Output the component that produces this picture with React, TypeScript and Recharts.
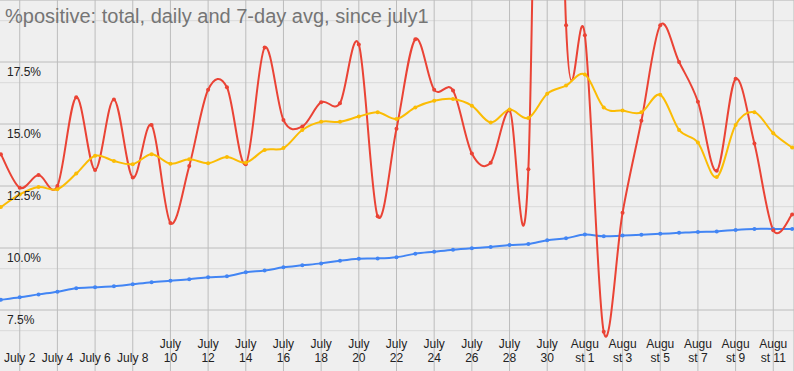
import { LineChart, Line, XAxis, YAxis, CartesianGrid } from 'recharts';

const days = [
  'July 1', 'July 2', 'July 3', 'July 4', 'July 5', 'July 6', 'July 7', 'July 8', 'July 9', 'July 10',
  'July 11', 'July 12', 'July 13', 'July 14', 'July 15', 'July 16', 'July 17', 'July 18', 'July 19', 'July 20',
  'July 21', 'July 22', 'July 23', 'July 24', 'July 25', 'July 26', 'July 27', 'July 28', 'July 29', 'July 30',
  'July 31', 'August 1', 'August 2', 'August 3', 'August 4', 'August 5', 'August 6', 'August 7', 'August 8',
  'August 9', 'August 10', 'August 11', 'August 12',
];

const totalPct = [
  7.91, 8.01, 8.13, 8.24, 8.38, 8.42, 8.46, 8.54, 8.62, 8.68, 8.74, 8.82, 8.86, 9.02, 9.09, 9.22, 9.3, 9.38,
  9.49, 9.57, 9.58, 9.63, 9.77, 9.85, 9.93, 9.99, 10.04, 10.12, 10.16, 10.31, 10.39, 10.54, 10.47, 10.5, 10.53,
  10.57, 10.61, 10.65, 10.67, 10.73, 10.77, 10.77, 10.77,
];

const dailyPct = [
  13.78, 12.43, 12.94, 12.5, 16.08, 13.15, 15.99, 12.84, 14.96, 11.01, 13.31, 16.38, 16.48, 13.38, 18.08, 15.16,
  14.9, 15.88, 15.84, 18.21, 11.28, 14.81, 18.42, 16.38, 16.35, 13.81, 13.44, 15.54, 13.18, 53.0, 18.98, 18.58,
  6.62, 11.42, 15.13, 18.98, 17.5, 15.9, 13.11, 16.82, 14.21, 10.72, 11.35,
];

const avg7Pct = [
  11.65, 12.16, 12.46, 12.37, 13.0, 13.72, 13.51, 13.38, 13.78, 13.4, 13.58, 13.42, 13.67, 13.44, 13.95, 14.03,
  14.76, 15.09, 15.09, 15.3, 15.47, 15.2, 15.67, 15.94, 16.01, 15.74, 15.06, 15.58, 15.24, 16.22, 16.55, 17.0,
  15.67, 15.54, 15.47, 16.18, 14.76, 14.25, 12.86, 14.96, 15.47, 14.63, 14.05,
];

const tickDays = [1, 3, 5, 7, 9, 11, 13, 15, 17, 19, 21, 23, 25, 27, 29, 31, 33, 35, 37, 39, 41];
const tickLabels = [
  ['July 2'], ['July 4'], ['July 6'], ['July 8'], ['July', '10'], ['July', '12'], ['July', '14'],
  ['July', '16'], ['July', '18'], ['July', '20'], ['July', '22'], ['July', '24'], ['July', '26'],
  ['July', '28'], ['July', '30'], ['Augu', 'st 1'], ['Augu', 'st 3'], ['Augu', 'st 5'], ['Augu', 'st 7'],
  ['Augu', 'st 9'], ['Augu', 'st 11'],
];

const majorLevels = [5, 7.5, 10, 12.5, 15, 17.5, 20];
const labelLevels = [7.5, 10, 12.5, 15, 17.5];
const minorLevels = [5.833, 6.667, 8.333, 9.167, 10.833, 11.667, 13.333, 14.167, 15.833, 16.667, 18.333, 19.167];

const data = days.map((label, i) => ({
  day: i,
  label,
  total: totalPct[i],
  daily: dailyPct[i],
  avg: avg7Pct[i],
}));

// uniform catmull-rom, passes through every point and overshoots like the sheets chart
const catmullRom = (context: any) => {
  let pts: number[][] = [];
  return {
    areaStart() {},
    areaEnd() {},
    lineStart() {
      pts = [];
    },
    point(x: number, y: number) {
      pts.push([+x, +y]);
    },
    lineEnd() {
      const n = pts.length;
      if (!n) return;
      context.moveTo(pts[0][0], pts[0][1]);
      for (let i = 0; i < n - 1; i++) {
        const p0 = pts[i - 1] || pts[i];
        const p1 = pts[i];
        const p2 = pts[i + 1];
        const p3 = pts[i + 2] || p2;
        context.bezierCurveTo(
          p1[0] + (p2[0] - p0[0]) / 6,
          p1[1] + (p2[1] - p0[1]) / 6,
          p2[0] - (p3[0] - p1[0]) / 6,
          p2[1] - (p3[1] - p1[1]) / 6,
          p2[0],
          p2[1],
        );
      }
    },
  };
};

const YTick = (props: any) => {
  const { y, payload } = props;
  if (!labelLevels.includes(payload.value)) return <g />;
  return (
    <text x={7} y={y + 13.6} fontSize={12} fill="#222" textAnchor="start">
      {payload.value.toFixed(1)}%
    </text>
  );
};

const XTick = (props: any) => {
  const { x, payload } = props;
  const lines = tickLabels[tickDays.indexOf(payload.value)] || [];
  return (
    <text x={x} textAnchor="middle" fontSize={12} fill="#222">
      {lines.map((l, k) => (
        <tspan key={k} x={x} y={362 - (lines.length - 1 - k) * 14}>
          {l}
        </tspan>
      ))}
    </text>
  );
};

export default function App() {
  return (
    <div
      style={{
        width: 794,
        height: 371,
        position: 'relative',
        overflow: 'hidden',
        background: '#efefef',
        fontFamily: 'Arial, "Liberation Sans", sans-serif',
      }}
    >
      <style>{'body{margin:0}'}</style>
      <LineChart width={794} height={371} data={data} margin={{ top: 0, right: 0, bottom: -1, left: -1 }}>
        <YAxis yAxisId="minor" hide type="number" domain={[5, 20]} ticks={minorLevels} allowDataOverflow />
        <CartesianGrid yAxisId="minor" vertical={false} stroke="#d9d9d9" strokeWidth={1} />
        <CartesianGrid yAxisId="main" stroke="#bcbcbc" strokeWidth={1} />
        <XAxis
          dataKey="day"
          type="number"
          domain={[-0.1, 42.1]}
          ticks={tickDays}
          interval={0}
          height={1}
          mirror
          tickLine={false}
          axisLine={false}
          tick={(p: any) => <XTick {...p} />}
        />
        <YAxis
          yAxisId="main"
          type="number"
          domain={[5, 20]}
          ticks={majorLevels}
          interval={0}
          width={1}
          mirror
          allowDataOverflow
          tickLine={false}
          axisLine={false}
          tick={(p: any) => <YTick {...p} />}
        />
        <Line
          yAxisId="main"
          dataKey="total"
          type={catmullRom as any}
          stroke="#4285f4"
          strokeWidth={2}
          dot={{ r: 2, fill: '#4285f4', stroke: 'none' }}
          isAnimationActive={false}
        />
        <Line
          yAxisId="main"
          dataKey="daily"
          type={catmullRom as any}
          stroke="#ea4335"
          strokeWidth={2}
          dot={{ r: 2, fill: '#ea4335', stroke: 'none' }}
          isAnimationActive={false}
        />
        <Line
          yAxisId="main"
          dataKey="avg"
          type={catmullRom as any}
          stroke="#fbbc04"
          strokeWidth={2}
          dot={{ r: 2, fill: '#fbbc04', stroke: 'none' }}
          isAnimationActive={false}
        />
      </LineChart>
      <svg width={794} height={40} style={{ position: 'absolute', left: 0, top: 0 }}>
        <text x={5} y={23} fontSize={20} fill="#757575">
          %positive: total, daily and 7-day avg, since july1
        </text>
      </svg>
    </div>
  );
}
